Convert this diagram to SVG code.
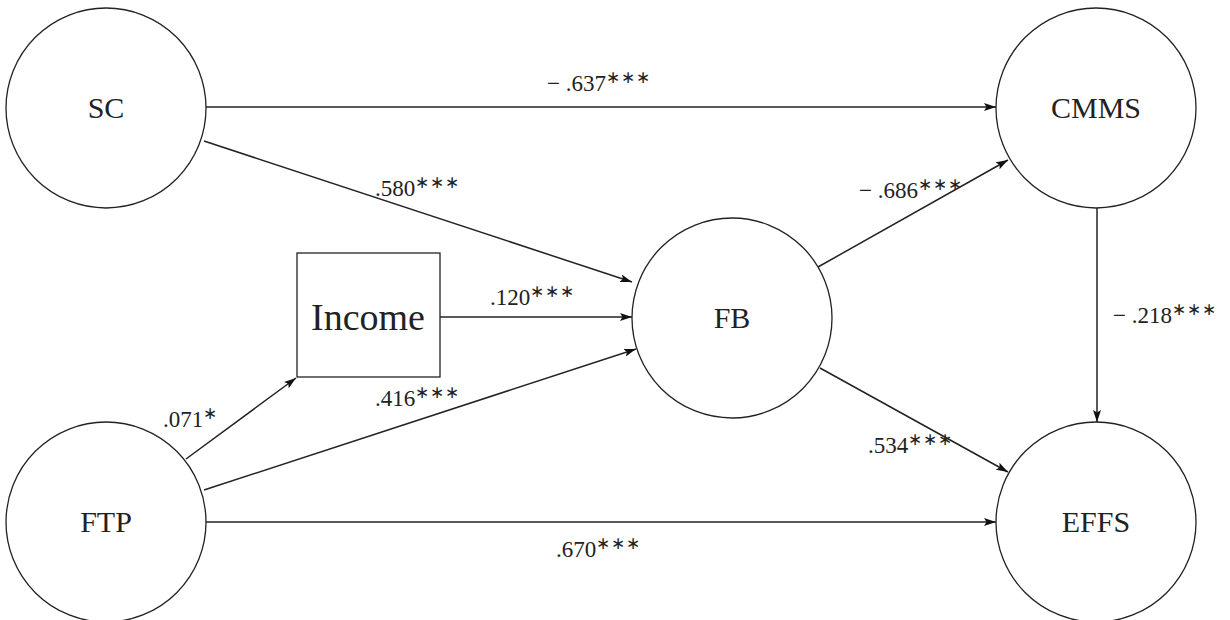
<svg xmlns="http://www.w3.org/2000/svg" width="1230" height="620" viewBox="0 0 1230 620">
<style>
.node{fill:#fff;stroke:#222;stroke-width:1.3}
.lbl{font-family:"Liberation Serif",serif;font-size:30px;fill:#222;text-anchor:middle}
.big{font-size:38px}
.edge{stroke:#222;stroke-width:1.5;fill:none;marker-end:url(#ah)}
.el{font-family:"Liberation Serif",serif;font-size:23px;fill:#222}
.st{font-size:17px;letter-spacing:1px}
</style>
<defs>
<marker id="ah" viewBox="0 0 12 8" refX="12" refY="4" markerWidth="12" markerHeight="8" markerUnits="userSpaceOnUse" orient="auto">
<path d="M0,0 L12,4 L0,8 L2.5,4 Z" fill="#111"/>
</marker>
</defs>
<rect width="1230" height="620" fill="#fff"/>
<g id="connectors">
<line class="edge" x1="206" y1="107" x2="996" y2="107"/>
<line class="edge" x1="204" y1="141" x2="632" y2="282"/>
<line class="edge" x1="440" y1="317" x2="632" y2="317"/>
<line class="edge" x1="186" y1="459" x2="296" y2="378"/>
<line class="edge" x1="204" y1="490" x2="636" y2="349"/>
<line class="edge" x1="206" y1="522" x2="996" y2="522"/>
<line class="edge" x1="818" y1="267" x2="1008" y2="160"/>
<line class="edge" x1="820" y1="368" x2="1008" y2="472"/>
<line class="edge" x1="1097" y1="208" x2="1097" y2="422"/>
<text class="el" x="547" y="91">− .637<tspan class="st" dy="-8">∗∗∗</tspan></text>
<text class="el" x="375" y="196">.580<tspan class="st" dy="-8">∗∗∗</tspan></text>
<text class="el" x="490" y="305">.120<tspan class="st" dy="-8">∗∗∗</tspan></text>
<text class="el" x="163" y="427">.071<tspan class="st" dy="-8">∗</tspan></text>
<text class="el" x="375" y="406">.416<tspan class="st" dy="-8">∗∗∗</tspan></text>
<text class="el" x="556" y="557">.670<tspan class="st" dy="-8">∗∗∗</tspan></text>
<text class="el" x="859" y="198">− .686<tspan class="st" dy="-8">∗∗∗</tspan></text>
<text class="el" x="868" y="453">.534<tspan class="st" dy="-8">∗∗∗</tspan></text>
<text class="el" x="1113" y="323">− .218<tspan class="st" dy="-8">∗∗∗</tspan></text>
</g>
<g id="SC"><circle class="node" cx="106" cy="108" r="100"/><text class="lbl" x="106" y="118">SC</text></g>
<g id="FTP"><circle class="node" cx="106" cy="522" r="100"/><text class="lbl" x="106" y="532">FTP</text></g>
<g id="CMMS"><circle class="node" cx="1096" cy="108" r="100"/><text class="lbl" x="1096" y="118">CMMS</text></g>
<g id="EFFS"><circle class="node" cx="1096" cy="522" r="100"/><text class="lbl" x="1096" y="532">EFFS</text></g>
<g id="FB"><circle class="node" cx="732" cy="318" r="100"/><text class="lbl" x="732" y="328">FB</text></g>
<g id="Income"><rect class="node" x="297" y="253" width="143" height="124"/><text class="lbl big" x="368" y="330">Income</text></g>
</svg>
